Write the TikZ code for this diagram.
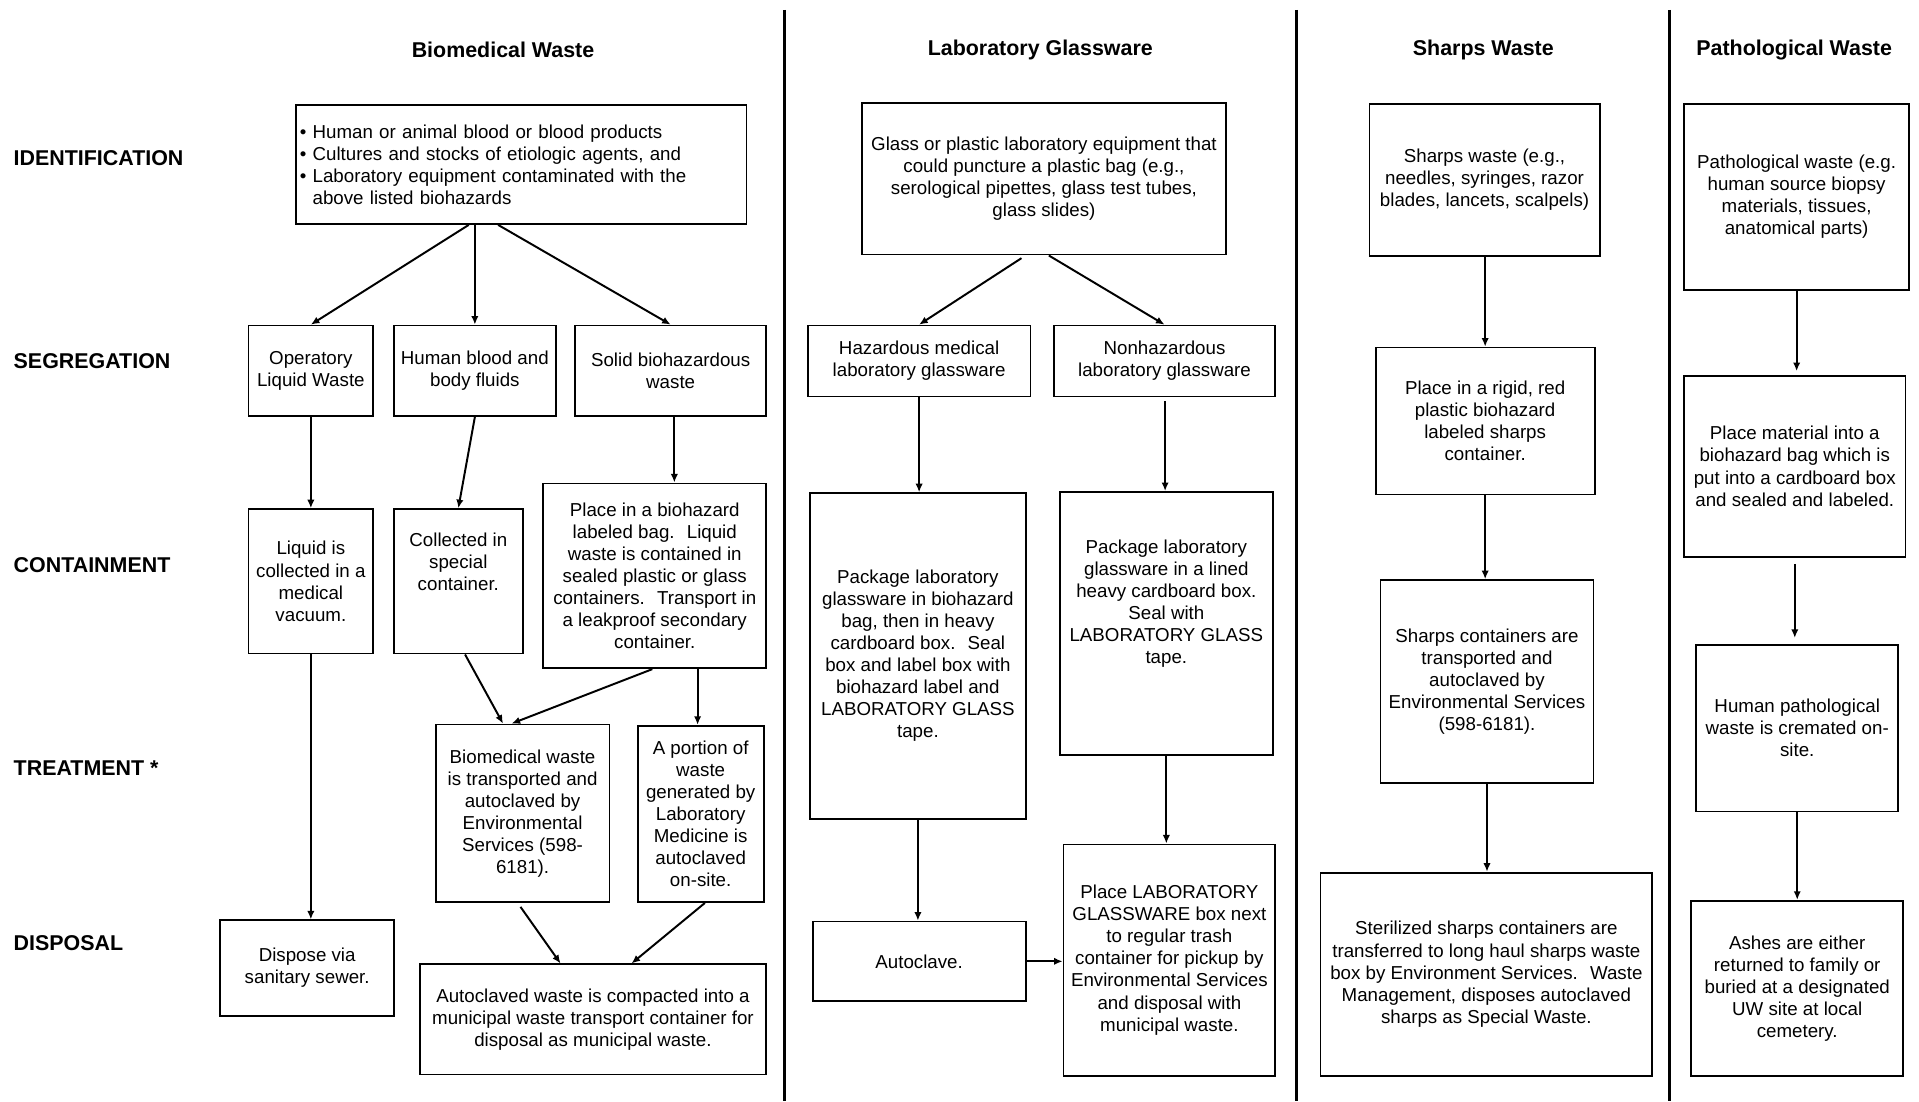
\documentclass[tikz,border=0pt]{standalone}
\usepackage{fontspec}
\setmainfont{Liberation Sans}
\usetikzlibrary{arrows.meta}

\begin{document}
\begin{tikzpicture}[x=1pt,y=-1pt,
    stepbox/.style={draw,line width=1.5pt,align=center,inner sep=1pt,
      font=\fontsize{15.3}{18}\selectfont},
    flow/.style={line width=1.6pt,-{Latex[length=7pt,width=6pt]}},
    head/.style={font=\fontsize{17.5}{20}\selectfont\bfseries}]

    \useasboundingbox (0,0) rectangle (1568,900);

    % Séparateurs
    \foreach \x in {641,1059,1364}{
      \draw[line width=2.5pt] (\x,8) -- (\x,900);
    }

    % Titres des colonnes
    \foreach \x/\lbl in {
        411/Biomedical Waste,
        850/Laboratory Glassware,
        1212/Sharps Waste,
        1466/Pathological Waste
    }{
      \node[head] (title\x) at (\x,41) {\lbl};
    }

    % Étapes (lignes)
    \foreach \y/\lbl in {
        129/IDENTIFICATION,
        295/SEGREGATION,
        462/CONTAINMENT,
        628/TREATMENT *,
        771/DISPOSAL
    }{
      \node[head,anchor=west,inner xsep=0pt] (row\y) at (11,\y) {\lbl};
    }

    % ---- Biomedical Waste ----
    \node[stepbox,align=left,text width=362pt,inner xsep=3pt,minimum height=97pt]
      (bullets) at (426,134.5) {%
      \textbullet\ Human or animal blood or blood products\\
      \textbullet\ Cultures and stocks of etiologic agents, and\\
      \textbullet\ Laboratory equipment contaminated with the\\
      \hphantom{\textbullet\ }above listed biohazards};
    \node[stepbox,minimum width=102pt,minimum height=74pt] (oper) at (254,303)
      {Operatory\\Liquid Waste};
    \node[stepbox,minimum width=132pt,minimum height=74pt] (blood) at (388,303)
      {Human blood and\\body fluids};
    \node[stepbox,minimum width=156pt,minimum height=74pt] (solid) at (548,303)
      {Solid biohazardous\\waste};
    \node[stepbox,minimum width=102pt,minimum height=118pt] (liquid) at (254,475)
      {Liquid is\\collected in a\\medical\\vacuum.};
    \node[stepbox,minimum width=105pt,minimum height=118pt] (collect) at (374.5,475)
      {Collected in\\special\\container.\\[14pt]};
    \node[stepbox,minimum width=182pt,minimum height=151pt] (bag) at (535,470.5)
      {Place in a biohazard\\labeled bag.~ Liquid\\waste is contained in\\sealed plastic or glass\\containers.~ Transport in\\a leakproof secondary\\container.};
    \node[stepbox,minimum width=142pt,minimum height=145pt] (envserv) at (427,664.5)
      {Biomedical waste\\is transported and\\autoclaved by\\Environmental\\Services (598-\\6181).};
    \node[stepbox,minimum width=103pt,minimum height=144pt] (portion) at (572.5,665)
      {A portion of\\waste\\generated by\\Laboratory\\Medicine is\\autoclaved\\on-site.};
    \node[stepbox,minimum width=142pt,minimum height=78pt] (sewer) at (251,791)
      {Dispose via\\sanitary sewer.};
    \node[stepbox,minimum width=283pt,minimum height=90pt] (compact) at (484.5,833)
      {Autoclaved waste is compacted into a\\municipal waste transport container for\\disposal as municipal waste.};

    \draw[flow] ([xshift=-43pt]bullets.south) -- (oper.north);
    \draw[flow] ([xshift=-38pt]bullets.south) -- (blood.north);
    \draw[flow] ([xshift=-19pt]bullets.south) -- (solid.north);
    \draw[flow] (oper.south) -- (liquid.north);
    \draw[flow] (blood.south) -- (collect.north);
    \draw[flow] ([xshift=3pt]solid.south) -- ([xshift=16pt]bag.north);
    \draw[flow] (liquid.south) -- (liquid.south |- sewer.north);
    \draw[flow] ([xshift=5.5pt]collect.south) -- ([xshift=-16pt]envserv.north);
    \draw[flow] ([xshift=-2pt]bag.south) -- ([xshift=-9pt]envserv.north);
    \draw[flow] ([xshift=35pt]bag.south) -- ([xshift=-2.5pt]portion.north);
    \draw[flow,shorten <=4pt] ([xshift=-4pt]envserv.south) -- ([xshift=-26.5pt]compact.north);
    \draw[flow] ([xshift=3.5pt]portion.south) -- ([xshift=31.5pt]compact.north);

    % ---- Laboratory Glassware ----
    \node[stepbox,minimum width=298pt,minimum height=124pt] (glass) at (853,146)
      {Glass or plastic laboratory equipment that\\could puncture a plastic bag (e.g.,\\serological pipettes, glass test tubes,\\glass slides)};
    \node[stepbox,minimum width=182pt,minimum height=58pt] (haz) at (751,295)
      {Hazardous medical\\laboratory glassware};
    \node[stepbox,minimum width=181pt,minimum height=58pt] (nonhaz) at (951.5,295)
      {Nonhazardous\\laboratory glassware};
    \node[stepbox,minimum width=176pt,minimum height=266pt] (pkghaz) at (750,536)
      {Package laboratory\\glassware in biohazard\\bag, then in heavy\\cardboard box.~ Seal\\box and label box with\\biohazard label and\\LABORATORY GLASS\\tape.};
    \node[stepbox,minimum width=174pt,minimum height=215pt] (pkgnon) at (953,509.5)
      {Package laboratory\\glassware in a lined\\heavy cardboard box.\\Seal with\\LABORATORY GLASS\\tape.\\[18pt]};
    \node[stepbox,minimum width=174pt,minimum height=65pt] (autoclave) at (751,785.5)
      {Autoclave.};
    \node[stepbox,minimum width=173pt,minimum height=189pt] (trash) at (955.5,784.5)
      {Place LABORATORY\\GLASSWARE box next\\to regular trash\\container for pickup by\\Environmental Services\\and disposal with\\municipal waste.};

    \draw[flow,shorten <=4pt] ([xshift=-15pt]glass.south) -- (haz.north);
    \draw[flow] ([xshift=4pt]glass.south) -- (nonhaz.north);
    \draw[flow] (haz.south) -- (haz.south |- pkghaz.north);
    \draw[flow,shorten <=3pt] ([xshift=0.5pt]nonhaz.south) -- ([xshift=0.5pt]nonhaz.south |- pkgnon.north);
    \draw[flow] (pkghaz.south) -- (pkghaz.south |- autoclave.north);
    \draw[flow] (pkgnon.south) -- (pkgnon.south |- trash.north);
    \draw[flow] (autoclave.east) -- (autoclave.east -| trash.west);

    % ---- Sharps Waste ----
    \node[stepbox,minimum width=188pt,minimum height=124pt] (sharps) at (1213,147)
      {Sharps waste (e.g.,\\needles, syringes, razor\\blades, lancets, scalpels)};
    \node[stepbox,minimum width=179pt,minimum height=120pt] (rigid) at (1213.5,344)
      {Place in a rigid, red\\plastic biohazard\\labeled sharps\\container.};
    \node[stepbox,minimum width=174pt,minimum height=166pt] (sharpsenv) at (1215,557)
      {Sharps containers are\\transported and\\autoclaved by\\Environmental Services\\(598-6181).};
    \node[stepbox,minimum width=271pt,minimum height=166pt] (steril) at (1214.5,796)
      {Sterilized sharps containers are\\transferred to long haul sharps waste\\box by Environment Services.~ Waste\\Management, disposes autoclaved\\sharps as Special Waste.};

    \draw[flow] ([xshift=0.5pt]sharps.south) -- ([xshift=0.5pt]sharps.south |- rigid.north);
    \draw[flow] (rigid.south) -- (rigid.south |- sharpsenv.north);
    \draw[flow] (sharpsenv.south) -- (sharpsenv.south |- steril.north);

    % ---- Pathological Waste ----
    \node[stepbox,minimum width=184pt,minimum height=152pt] (patho) at (1468,161)
      {Pathological waste (e.g.\\human source biopsy\\materials, tissues,\\anatomical parts)};
    \node[stepbox,minimum width=181pt,minimum height=148pt] (material) at (1466.5,381)
      {Place material into a\\biohazard bag which is\\put into a cardboard box\\and sealed and labeled.};
    \node[stepbox,minimum width=165pt,minimum height=136pt] (cremate) at (1468.5,595)
      {Human pathological\\waste is cremated on-\\site.};
    \node[stepbox,minimum width=173pt,minimum height=143pt] (ashes) at (1468.5,807.5)
      {Ashes are either\\returned to family or\\buried at a designated\\UW site at local\\cemetery.};

    \draw[flow,shorten >=3pt] (patho.south) -- (patho.south |- material.north);
    \draw[flow,shorten <=5pt,shorten >=5pt] (material.south) -- (material.south |- cremate.north);
    \draw[flow] (cremate.south) -- (cremate.south |- ashes.north);

  \end{tikzpicture}
\end{document}
